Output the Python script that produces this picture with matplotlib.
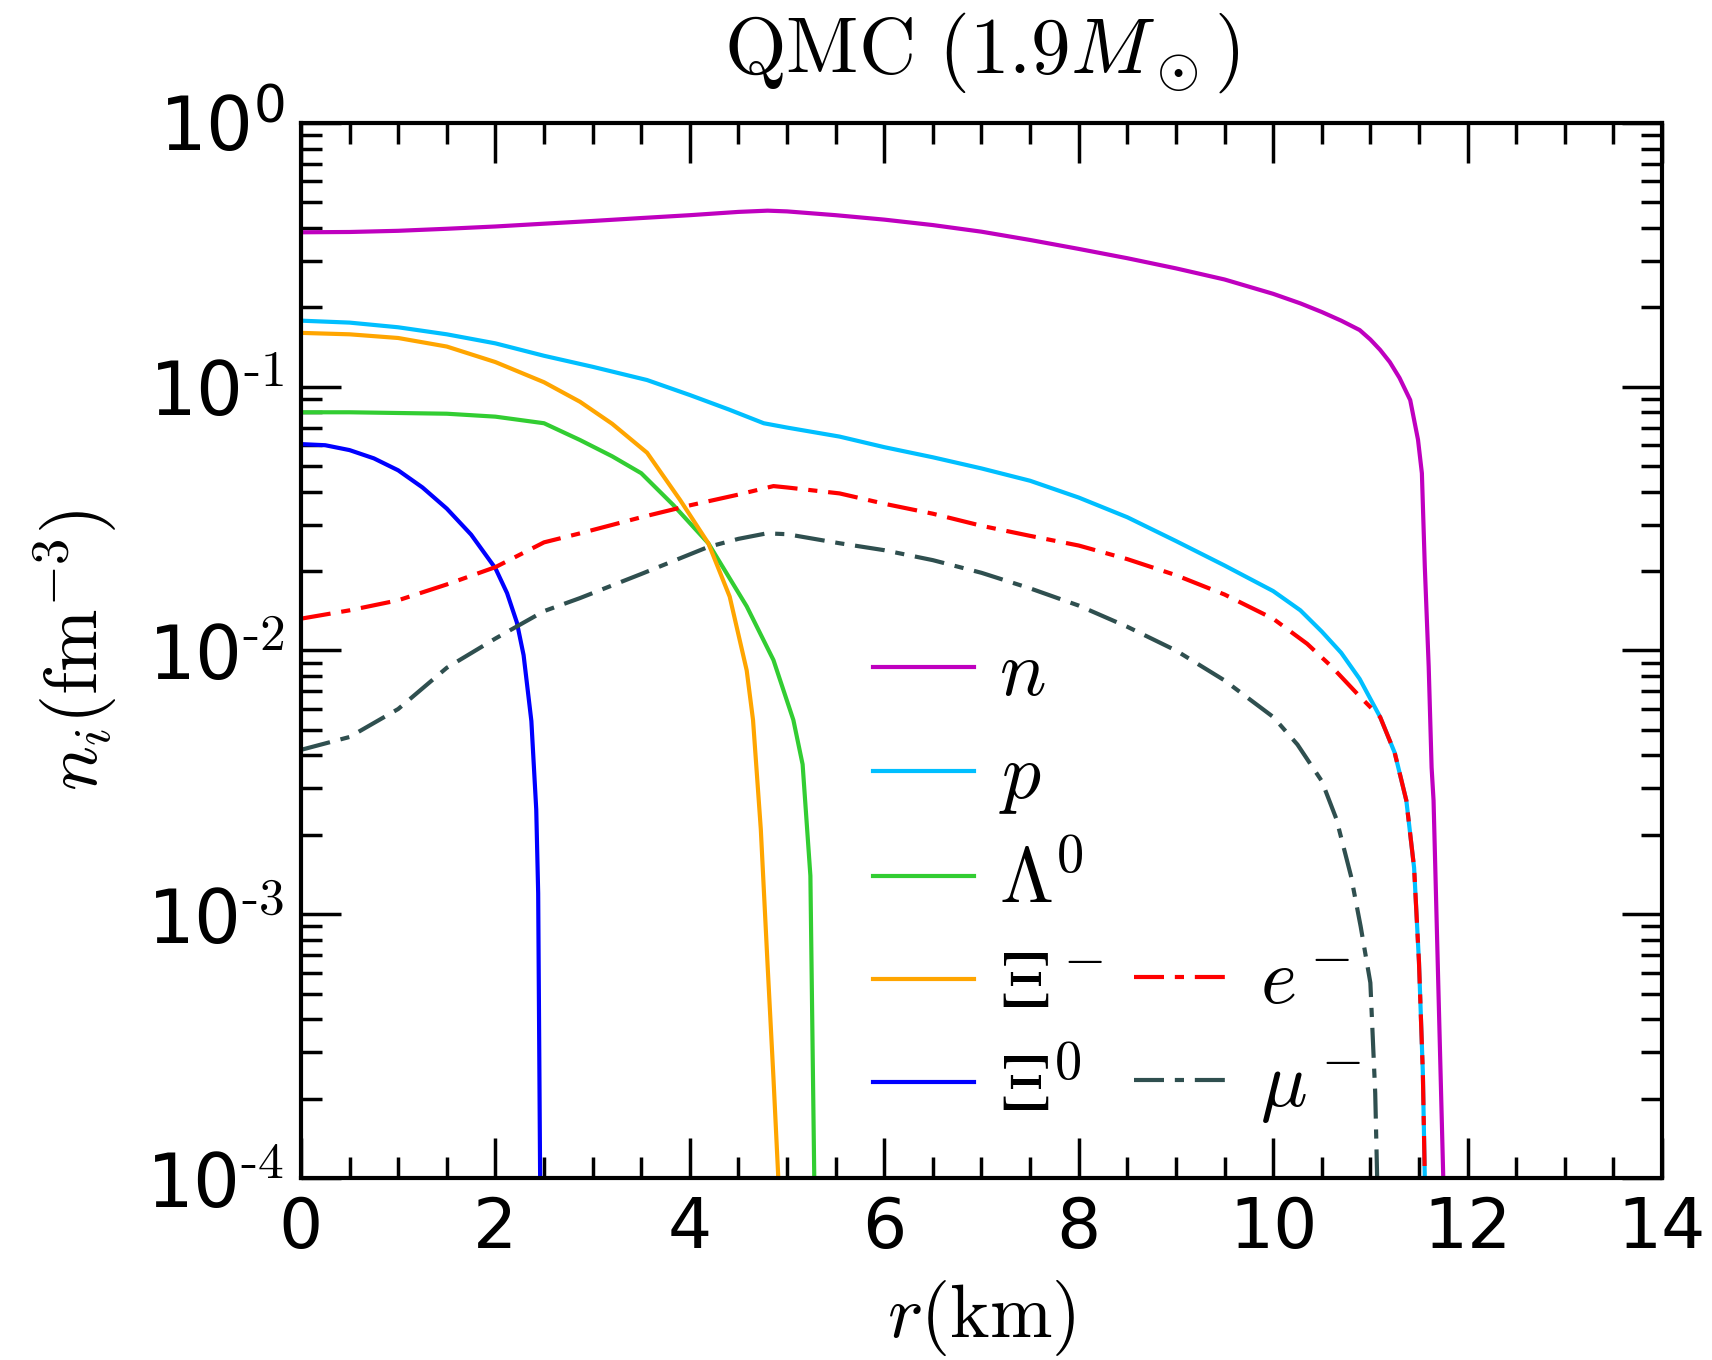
import matplotlib
matplotlib.use("Agg")
import matplotlib.pyplot as plt
from matplotlib.lines import Line2D
from matplotlib.ticker import LogLocator, NullFormatter, MultipleLocator

plt.rcParams['mathtext.fontset'] = 'cm'
plt.rcParams['font.family'] = ['DejaVu Sans']

# ---------------- data ----------------
r_n = [0, 0.5, 1, 1.5, 2, 2.5, 3, 3.5, 4, 4.5, 4.8, 5, 5.5, 6, 6.5, 7, 7.5, 8, 8.5, 9, 9.5,
       10, 10.28, 10.5, 10.7, 10.89, 11.0, 11.1, 11.2, 11.3, 11.41, 11.49, 11.53, 11.56, 11.6,
       11.63, 11.65, 11.75, 11.77]
n_n = [0.385, 0.386, 0.39, 0.397, 0.405, 0.415, 0.425, 0.436, 0.447, 0.46, 0.465, 0.462, 0.447,
       0.43, 0.41, 0.387, 0.36, 0.333, 0.307, 0.281, 0.255, 0.225, 0.207, 0.192, 0.178, 0.164,
       0.151, 0.138, 0.124, 0.108, 0.089, 0.063, 0.047, 0.0208, 0.0087, 0.0036, 0.0027, 0.0001,
       0.00005]

r_p = [0, 0.5, 1, 1.5, 2, 2.5, 3, 3.56, 4, 4.4, 4.76, 5, 5.54, 6, 6.5, 7, 7.5, 8, 8.5, 9, 9.5,
       10, 10.28, 10.5, 10.7, 10.89, 11.1, 11.25, 11.37, 11.45, 11.5, 11.54, 11.56, 11.58]
n_p = [0.178, 0.175, 0.168, 0.158, 0.146, 0.131, 0.119, 0.106, 0.093, 0.082, 0.0727, 0.070,
       0.0647, 0.059, 0.054, 0.049, 0.044, 0.038, 0.032, 0.026, 0.021, 0.0168, 0.0142, 0.0118,
       0.0098, 0.0078, 0.0056, 0.0041, 0.0027, 0.0015, 0.00066, 0.00025, 0.0001, 0.00005]

r_L = [0, 0.5, 1, 1.5, 2, 2.5, 2.87, 3.2, 3.5, 3.83, 4.19, 4.585, 4.86, 5.065, 5.16, 5.24,
       5.28, 5.3]
n_L = [0.080, 0.080, 0.0795, 0.079, 0.077, 0.0727, 0.0628, 0.0545, 0.047, 0.0356, 0.0255,
       0.0147, 0.0092, 0.00545, 0.0037, 0.0014, 0.0001, 0.00005]

r_Xm = [0, 0.5, 1, 1.5, 2, 2.5, 2.87, 3.2, 3.56, 3.9, 4.19, 4.41, 4.585, 4.65, 4.73, 4.8,
        4.86, 4.91, 4.93]
n_Xm = [0.16, 0.158, 0.153, 0.142, 0.124, 0.104, 0.0877, 0.0724, 0.0562, 0.0372, 0.0255,
        0.016, 0.0084, 0.00545, 0.0021, 0.00064, 0.00024, 0.0001, 0.00005]

r_X0 = [0, 0.25, 0.5, 0.75, 1, 1.25, 1.5, 1.75, 2, 2.12, 2.22, 2.29, 2.37, 2.42, 2.44, 2.46,
        2.47]
n_X0 = [0.0606, 0.0600, 0.0575, 0.0535, 0.0482, 0.0415, 0.0345, 0.0275, 0.0205, 0.0165, 0.0128,
        0.0096, 0.0054, 0.0025, 0.0012, 0.0001, 0.00005]

r_e = [0, 0.5, 1, 1.5, 2, 2.5, 2.87, 3.5, 4, 4.5, 4.86, 5, 5.54, 6, 6.5, 7, 7.5, 8, 8.5, 9,
       9.5, 10, 10.35, 10.6, 10.89, 11.1, 11.25, 11.37, 11.45, 11.5, 11.54, 11.56, 11.58]
n_e = [0.0132, 0.0142, 0.0155, 0.0178, 0.0207, 0.0257, 0.0278, 0.032, 0.0355, 0.039, 0.042,
       0.0415, 0.0394, 0.036, 0.033, 0.0297, 0.0272, 0.025, 0.0222, 0.0193, 0.0163, 0.0132,
       0.0106, 0.0087, 0.0067, 0.0056, 0.0041, 0.0027, 0.0015, 0.00066, 0.00025, 0.0001,
       0.00005]

r_mu = [0, 0.5, 1, 1.5, 2, 2.5, 2.87, 3.5, 4.19, 4.5, 4.79, 5, 5.54, 6, 6.5, 7, 7.5, 8, 8.5,
        9, 9.5, 10, 10.25, 10.5, 10.65, 10.8, 10.9, 11, 11.05, 11.07, 11.09]
n_mu = [0.0042, 0.0047, 0.006, 0.0086, 0.0111, 0.0141, 0.0158, 0.0195, 0.0247, 0.0265, 0.0278,
        0.0276, 0.0255, 0.024, 0.022, 0.0197, 0.0172, 0.0148, 0.0123, 0.01, 0.0077, 0.0056,
        0.0044, 0.0032, 0.0023, 0.0014, 0.0009, 0.00055, 0.00021, 0.0001, 0.00005]

labels = [r'$n$', r'$p$', r'$\Lambda^0$', r'$\Xi^-$', r'$\Xi^0$', r'$e^-$', r'$\mu^-$']
colors = ['#bf00bf', '#00bfff', '#32cd32', '#ffa500', '#0000ff', '#ff0000', '#2f4f4f']

ytick_vals = [1e-4, 1e-3, 1e-2, 1e-1, 1e0]
ytick_labels = [r'$\mathregular{10^{\text{-4}}}$', r'$\mathregular{10^{\text{-3}}}$',
                r'$\mathregular{10^{\text{-2}}}$', r'$\mathregular{10^{\text{-1}}}$',
                r'$\mathregular{10^{0}}$']
xtick_vals = [0, 2, 4, 6, 8, 10, 12, 14]

# ---------------- plot ----------------
fig = plt.figure(figsize=(17.12, 13.6), dpi=100)
ax = fig.add_axes([0.1758, 0.1338, 0.9708 - 0.1758, 0.9096 - 0.1338])

lw = 3.0
dd = (0, (7.2, 2.6, 2.2, 2.6))
h_n, = ax.plot(r_n, n_n, color=colors[0], lw=lw, label=labels[0])
h_p, = ax.plot(r_p, n_p, color=colors[1], lw=lw, label=labels[1])
h_L, = ax.plot(r_L, n_L, color=colors[2], lw=lw, label=labels[2])
h_Xm, = ax.plot(r_Xm, n_Xm, color=colors[3], lw=lw, label=labels[3])
h_X0, = ax.plot(r_X0, n_X0, color=colors[4], lw=lw, label=labels[4])
h_e, = ax.plot(r_e, n_e, color=colors[5], lw=lw, ls=dd, label=labels[5])
h_mu, = ax.plot(r_mu, n_mu, color=colors[6], lw=lw, ls=dd, label=labels[6])

ax.set_yscale('log')
ax.set_xlim(0, 14)
ax.set_ylim(1e-4, 1)

ax.set_xticks(xtick_vals)
ax.set_xticklabels([str(v) for v in xtick_vals])
ax.xaxis.set_minor_locator(MultipleLocator(0.5))
ax.set_yticks(ytick_vals)
ax.set_yticklabels(ytick_labels)
ax.yaxis.set_minor_locator(LogLocator(base=10, subs=range(2, 10), numticks=20))
ax.yaxis.set_minor_formatter(NullFormatter())

ax.tick_params(which='both', direction='in', top=True, right=True, width=2.5)
ax.tick_params(which='major', length=29, labelsize=50, pad=12)
ax.tick_params(axis='y', which='major', labelsize=53)
ax.tick_params(which='minor', length=15)
for s in ax.spines.values():
    s.set_linewidth(3)

ax.set_xlabel(r'$r(\mathrm{km})$', fontsize=54, labelpad=12)
ax.set_ylabel(r'$n_i(\mathrm{fm}^{-3})$', fontsize=54, labelpad=20)
ax.set_title(r'$\mathrm{QMC}\ (1.9M_\odot)$', fontsize=57, pad=36)

blank = Line2D([], [], alpha=0)
handles = [h_n, h_p, h_L, h_Xm, h_X0, blank, blank, blank, h_e, h_mu]
leg_labels = labels[:5] + ['', '', ''] + labels[5:]
leg = ax.legend(handles, leg_labels, ncol=2, loc='upper left', bbox_to_anchor=(0.42, 0.515),
                frameon=False, fontsize=56, handlelength=1.3, handletextpad=0.32,
                columnspacing=0.4, labelspacing=0.35, borderpad=0, borderaxespad=0)

fig.savefig('out.png', dpi=100)
